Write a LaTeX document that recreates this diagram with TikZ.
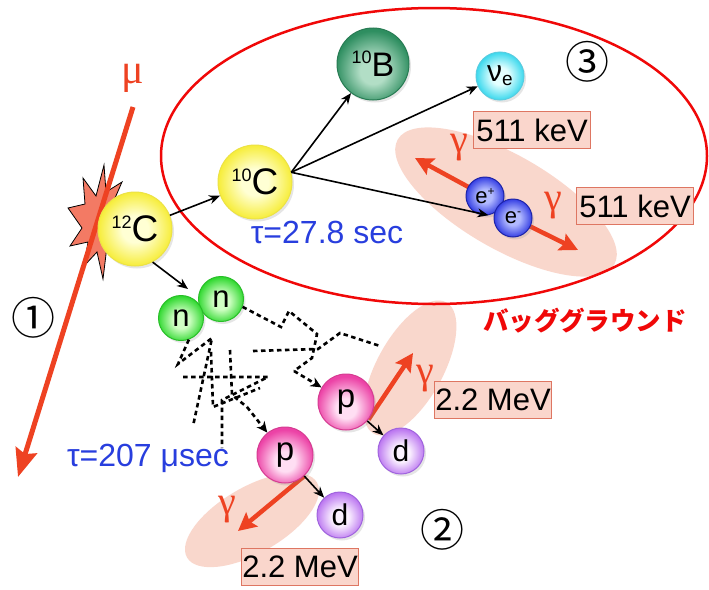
\documentclass[tikz,border=0pt]{standalone}
\usepackage{fontspec}
\setmainfont{Liberation Sans}
\newfontfamily\greekserif{Liberation Serif}
\newfontfamily\cjk{Noto Sans CJK JP}
\usetikzlibrary{arrows.meta,shadows,calc}

\definecolor{muonred}{RGB}{238,66,34}
\definecolor{ringred}{RGB}{240,8,8}
\definecolor{halo}{RGB}{249,208,196}
\definecolor{tagfill}{RGB}{250,214,204}
\definecolor{tagdraw}{RGB}{222,118,98}
\definecolor{taublue}{RGB}{40,62,222}
\definecolor{burst}{RGB}{243,122,100}

\definecolor{carbonIn}{RGB}{255,255,212}
\definecolor{carbonOut}{RGB}{246,236,48}
\definecolor{carbonRim}{RGB}{236,226,70}
\definecolor{boronIn}{RGB}{178,222,198}
\definecolor{boronOut}{RGB}{46,142,96}
\definecolor{boronRim}{RGB}{40,124,84}
\definecolor{nuIn}{RGB}{228,255,255}
\definecolor{nuOut}{RGB}{48,214,236}
\definecolor{nuRim}{RGB}{90,204,224}
\definecolor{posIn}{RGB}{178,186,255}
\definecolor{posOut}{RGB}{46,56,226}
\definecolor{posRim}{RGB}{30,36,168}
\definecolor{neuIn}{RGB}{208,255,196}
\definecolor{neuOut}{RGB}{46,216,46}
\definecolor{neuRim}{RGB}{40,190,40}
\definecolor{proIn}{RGB}{255,222,243}
\definecolor{proOut}{RGB}{236,66,166}
\definecolor{proRim}{RGB}{214,60,146}
\definecolor{deuIn}{RGB}{251,242,255}
\definecolor{deuOut}{RGB}{186,116,240}
\definecolor{deuRim}{RGB}{160,100,222}

% particle shading: pale core fading into a saturated rim
\newcommand\orbshade[4]{%
  \pgfdeclareradialshading{#1}{\pgfpoint{0bp}{#4}}%
  {color(0bp)=(#2); color(9bp)=(#2); color(26bp)=(#3); color(50bp)=(#3)}}
\orbshade{carbonS}{carbonIn}{carbonOut}{0bp}
\orbshade{boronS}{boronIn}{boronOut}{-6bp}
\orbshade{nuS}{nuIn}{nuOut}{0bp}
\orbshade{posS}{posIn}{posOut}{0bp}
\orbshade{neuS}{neuIn}{neuOut}{-3bp}
\orbshade{proS}{proIn}{proOut}{-7bp}
\orbshade{deuS}{deuIn}{deuOut}{-3bp}

\newcommand\nuclide[2]{\raisebox{13pt}{\fontsize{18}{18}\selectfont #1}#2}

\pgfdeclarelayer{back}
\pgfsetlayers{back,main}

\tikzset{
  orb/.style={circle, inner sep=0pt, shade, line width=1pt,
    drop shadow={shadow xshift=2pt, shadow yshift=-2.5pt, opacity=.2}},
  carbon/.style={orb, shading=carbonS, draw=carbonRim, minimum size=74pt,
    font=\fontsize{37}{37}\selectfont},
  boron/.style={orb, shading=boronS, draw=boronRim, minimum size=72pt,
    font=\fontsize{34}{34}\selectfont},
  neutrino/.style={orb, shading=nuS, draw=nuRim, minimum size=48pt,
    font=\fontsize{30}{30}\selectfont},
  lepton/.style={orb, shading=posS, draw=posRim, minimum size=38pt,
    font=\fontsize{22}{22}\selectfont},
  neutron/.style={orb, shading=neuS, draw=neuRim, minimum size=45pt,
    font=\fontsize{31}{31}\selectfont},
  proton/.style={orb, shading=proS, draw=proRim, minimum size=56pt,
    font=\fontsize{33}{33}\selectfont},
  deuteron/.style={orb, shading=deuS, draw=deuRim, minimum size=46pt,
    font=\fontsize{30}{30}\selectfont},
  tag/.style={fill=tagfill, draw=tagdraw, line width=1pt, inner sep=0pt,
    minimum width=117pt, minimum height=37pt, font=\fontsize{31}{31}\selectfont},
  gam/.style={text=muonred, inner sep=0pt, font=\greekserif\fontsize{40}{40}\selectfont},
  lifetime/.style={text=taublue, inner sep=0pt, font=\fontsize{32}{32}\selectfont},
  circled/.style={inner sep=0pt, font=\cjk\fontsize{44}{44}\selectfont},
  link/.style={draw=black, line width=1.6pt, -{Stealth[length=11pt,width=9pt]}},
  walk/.style={draw=black, line width=2.6pt, dash pattern=on 4.5pt off 3.5pt},
  walkend/.style={walk, -{Stealth[length=11pt,width=10pt]}},
  gammaray/.style={draw=muonred, line width=4.5pt, -{Stealth[length=18pt,width=18pt,inset=3pt]}},
  muon/.style={draw=muonred, line width=5pt, -{Stealth[length=28pt,width=22pt,inset=4pt]}},
  haze/.style={fill=halo, fill opacity=.85},
}

\begin{document}
\begin{tikzpicture}[x=1pt,y=-1pt]
\useasboundingbox (0,0) rectangle (709,589);

% ---- particles ----
\node[carbon] (c12) at (135,229) {\nuclide{12}{C}};
\node[carbon] (c10) at (255,182) {\nuclide{10}{C}};
\node[boron] (b10) at (373,64) {\nuclide{10}{B}};
\node[neutrino] (nue) at (500,76) {ν\raisebox{-4pt}{\fontsize{19}{19}\selectfont e}};
\node[lepton] (ep) at (485,196) {e\raisebox{8pt}{\fontsize{12}{12}\selectfont +}};
\node[lepton] (em) at (513,218) {e\raisebox{8pt}{\fontsize{12}{12}\selectfont -}};
\node[neutron] (n2) at (221,299) {n};
\node[neutron] (n1) at (181,318) {n};
\node[proton] (p1) at (346,402) {p};
\node[proton] (p2) at (285,455) {p};
\node[deuteron] (d1) at (401,451) {d};
\node[deuteron] (d2) at (340,515) {d};

% ---- labels ----
\node[tag] (k1) at (532,130) {511 keV};
\node[tag] (k2) at (635,206) {511 keV};
\node[tag] (m1) at (493,400) {2.2 MeV};
\node[tag] (m2) at (300,567) {2.2 MeV};
\node[gam] (ga) at (459,148) {γ};
\node[gam] (gb) at (553,206) {γ};
\node[gam] (gc) at (425,379) {γ};
\node[gam] (gd) at (227,510) {γ};
\node[gam, font=\greekserif\fontsize{42}{42}\selectfont] (mu) at (133,78) {μ};
\node[lifetime] (t10) at (327,232) {τ=27.8 sec};
\node[lifetime] (tn) at (148,458) {τ=207 μsec};
\node[circled] (one) at (33,318) {①};
\node[circled] (two) at (442,530) {②};
\node[circled] (three) at (587,62) {③};
\node[text=ringred, inner sep=0pt, font=\cjk\bfseries\fontsize{25.5}{25.5}\selectfont] (bg) at (585,321) {バッググラウンド};

% ---- free ends ----
\coordinate (mutail) at (133,107);
\coordinate (muhead) at (18,477);
\coordinate (tipA) at (415,158);
\coordinate (tipB) at (578,250);
\coordinate (tipC) at (413,353);
\coordinate (tipD) at (238,531);

\begin{pgfonlayer}{back}
  \fill[white] (0,0) rectangle (709,589);
  % pale glow around each photon pair
  \fill[haze, rotate around={-30:(506,202)}] (506,202) ellipse (125pt and 47pt);
  \fill[haze, rotate around={61:(410,368)}] (410,368) ellipse (75pt and 33pt);
  \fill[haze, rotate around={30:(252,520)}] (252,520) ellipse (75pt and 33pt);
  % background region
  \draw[ringred, line width=2.5pt] (434,156) ellipse (273pt and 148pt);
  % impact burst and muon track
  \filldraw[fill=burst, draw=black, line width=0.8pt]
    (104,165) -- (106,192) -- (122,182) -- (112,205) -- (126,214) -- (112,222)
    -- (124,246) -- (108,238) -- (103,279) -- (97,252) -- (84,266) -- (88,242)
    -- (70,246) -- (82,228) -- (68,208) -- (85,204) -- (83,178) -- (96,196) -- cycle;
  \draw[muon] (mutail) -- (muhead);
  % photons
  \draw[gammaray] (ep.center) -- (tipA);
  \draw[gammaray] (em.center) -- (tipB);
  \draw[gammaray] (p1.-38) -- (tipC);
  \draw[gammaray] (p2.-48) -- (tipD);
\end{pgfonlayer}

% ---- neutron random walks ----
\draw[walk] (n2.-20) -- (281,327) -- (289,311) -- (317,334) -- (312,358) -- (294,371);
\draw[walkend] (294,371) -- (p1);
\draw[walk] (253,351) -- (318,349) -- (340,333) -- (380,346);
\draw[walk] (n1.-70) -- (178,364) -- (212,338) -- (193,426);
\draw[walk] (183,377) -- (268,377) -- (222,400) -- (222,448);
\draw[walk] (211,352) -- (213,407) -- (260,388);
\draw[walk] (230,350) -- (232,395) -- (247,407);
\draw[walkend] (247,407) -- (p2);

% ---- reactions ----
\draw[link] (c12) -- (c10);
\draw[link] (c12.-62) -- ($(n1.north)+(7,-6)$);
\draw[link] (c10.15) -- (b10);
\draw[link] (c10.15) -- (nue);
\draw[link] (c10.15) -- (ep.-80);
\draw[link] (p1) -- (d1);
\draw[link] (p2) -- (d2);
\end{tikzpicture}
\end{document}
